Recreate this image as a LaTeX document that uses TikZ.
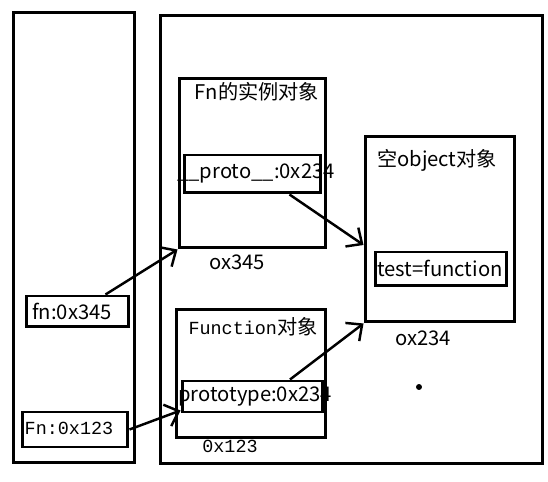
\documentclass[tikz,border=0pt]{standalone}
\usepackage{fontspec}
\setmainfont{Noto Sans CJK SC}
\newfontfamily\monofont{Liberation Mono}
\usetikzlibrary{arrows.meta, positioning}
\tikzset{>={Straight Barb[length=7pt,width=13pt]}}

\begin{document}
\begin{tikzpicture}[x=0.02cm, y=-0.02cm, font=\fontsize{11.5}{14}\selectfont,
	box/.style={draw, line width=1.7pt, inner sep=0pt},
	mono/.style={font=\fontsize{10.5}{13}\selectfont\monofont},
	link/.style={->, line width=1.4pt}]
	\useasboundingbox (0,0) rectangle (548,482);
	% stack and heap
	\node[box, minimum width=2.44cm, minimum height=9.02cm] (stack) at (74,237.5) {};
	\node[box, minimum width=7.66cm, minimum height=8.98cm] (heap) at (351.5,239.5) {};
	% variables
	\node[box, minimum width=2.06cm, minimum height=0.62cm] (fnvar) at (77.5,311.5) {};
	\node (fnvarT) at (72,311) {fn:0x345};
	\node[box, minimum width=2.12cm, minimum height=0.70cm] (Fnvar) at (75,429.5) {};
	\node[mono] (FnvarT) at (69,428) {Fn:0x123};
	% Fn instance
	\node[box, minimum width=2.94cm, minimum height=3.40cm] (inst) at (252.5,163) {};
	\node (instT) at (257,92) {Fn的实例对象};
	\node[box, minimum width=2.74cm, minimum height=0.76cm] (proto) at (252.5,174) {};
	\node (protoT) at (256,173) {\_\_proto\_\_:0x234};
	\node (instA) at (237,262) {ox345};
	% Function object
	\node[box, minimum width=3.00cm, minimum height=2.58cm] (func) at (251,373.5) {};
	\node (funcT) at (253,327) {{\monofont\fontsize{10.5}{13}\selectfont Function}对象};
	\node[box, minimum width=2.82cm, minimum height=0.62cm] (ptype) at (252.5,396.5) {};
	\node (ptypeT) at (255,397) {prototype:0x234};
	\node[mono] (funcA) at (230,446) {0x123};
	% empty object
	\node[box, minimum width=3.00cm, minimum height=3.72cm] (obj) at (440,229) {};
	\node (objT) at (437,160) {空object对象};
	\node[box, minimum width=2.64cm, minimum height=0.68cm] (test) at (441,269) {};
	\node (testT) at (440,268) {test=function};
	\node (objA) at (423,338) {ox234};
	\node[circle, fill, inner sep=1.2pt] (dot) at (419,387) {};
	% references
	\draw [link]([xshift=-0.5cm]fnvar.north east)--(inst.south west);
	\draw [link]([xshift=0.74cm]proto.south)--([yshift=-0.32cm]obj.west);
	\draw [link](Fnvar.east)--([yshift=-0.28cm]ptype.west);
	\draw [link]([xshift=0.75cm]ptype.north)--(obj.south west);
\end{tikzpicture}
\end{document}
